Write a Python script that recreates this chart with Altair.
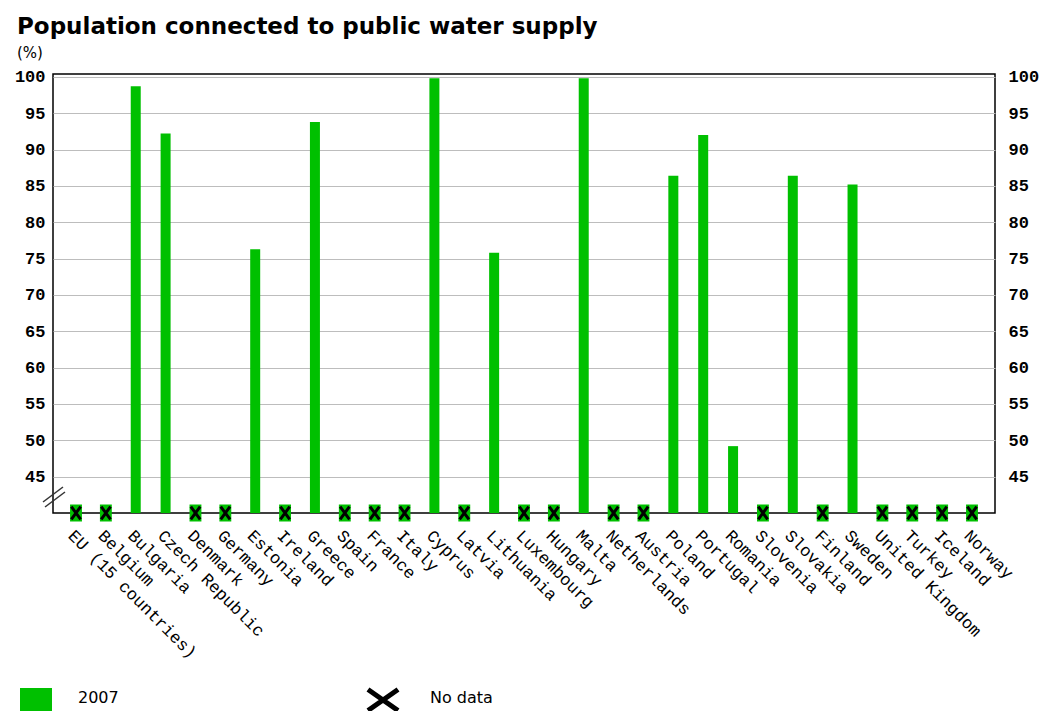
import altair as alt
import pandas as pd

# ---- data ----
countries = ["EU (15 countries)", "Belgium", "Bulgaria", "Czech Republic", "Denmark",
             "Germany", "Estonia", "Ireland", "Greece", "Spain", "France", "Italy",
             "Cyprus", "Latvia", "Lithuania", "Luxembourg", "Hungary", "Malta",
             "Netherlands", "Austria", "Poland", "Portugal", "Romania", "Slovenia",
             "Slovakia", "Finland", "Sweden", "United Kingdom", "Turkey", "Iceland", "Norway"]
values_2007 = [None, None, 98.7, 92.2, None,
               None, 76.3, None, 93.8, None, None, None,
               99.8, None, 75.8, None, None, 99.8,
               None, None, 86.4, 92.0, 49.2, None,
               86.4, None, 85.2, None, None, None, None]
y_ticks = [45, 50, 55, 60, 65, 70, 75, 80, 85, 90, 95, 100]
title_text = "Population connected to public water supply"
unit_text = "(%)"
legend_series = ["2007"]
legend_nodata = ["No data"]
axis_floor = 40

df = pd.DataFrame({"country": countries, "value": values_2007})
df["base"] = axis_floor
bars_df = df.dropna().reset_index(drop=True)
nodata_df = df[df["value"].isna()].reset_index(drop=True)

W, H = 942, 439
GREEN = "#00c000"
MONO = "Liberation Mono"
SANS = "DejaVu Sans"

yscale = alt.Scale(domain=[40, 100.4], nice=False, zero=False)

xenc = alt.X(
    "country:N", sort=countries,
    scale=alt.Scale(type="point", padding=0.77),
    axis=alt.Axis(title=None, labelAngle=45, labelAlign="left", labelBaseline="top",
                  labelFont=MONO, labelFontSize=17, labelColor="black",
                  labelPadding=14, labelLimit=400, labelOverlap=False, labelBound=False,
                  ticks=False, domain=False, grid=False),
)

bars = alt.Chart(bars_df).mark_bar(color=GREEN, size=10, clip=True).encode(
    x=xenc,
    y=alt.Y("value:Q", scale=yscale,
            axis=alt.Axis(orient="left", title=None, values=y_ticks, grid=True,
                          gridColor="#bdbdbd", gridWidth=1, ticks=False, domain=False,
                          labelFont=MONO, labelFontWeight="bold", labelFontSize=17,
                          labelColor="black", labelPadding=8)),
    y2="base:Q",
)

right_axis = alt.Chart(bars_df).mark_bar(opacity=0, size=10).encode(
    x=xenc,
    y=alt.Y("value:Q", scale=yscale,
            axis=alt.Axis(orient="right", title=None, values=y_ticks, grid=False,
                          ticks=False, domain=False,
                          labelFont=MONO, labelFontWeight="bold", labelFontSize=17,
                          labelColor="black", labelPadding=13)),
    y2="base:Q",
)

rect_path = "M-0.7,-1L0.7,-1L0.7,1L-0.7,1Z"
x_path = "M-0.55,-0.75L0.55,0.75M0.55,-0.75L-0.55,0.75"

nd_rect = alt.Chart(nodata_df).mark_point(shape=rect_path, filled=True, color=GREEN,
                                          size=289, opacity=1, clip=False).encode(
    x=xenc, y=alt.Y("base:Q", scale=yscale, axis=None))
nd_x = alt.Chart(nodata_df).mark_point(shape=x_path, filled=False, stroke="black",
                                       strokeWidth=3, size=289, opacity=1, clip=False).encode(
    x=xenc, y=alt.Y("base:Q", scale=yscale, axis=None))

# axis break mark
brk1 = alt.Chart(pd.DataFrame({"k": [1]})).mark_rule(color="#333333", strokeWidth=1.5).encode(
    x=alt.value(-10), x2=alt.value(10), y=alt.value(428), y2=alt.value(413))
brk2 = alt.Chart(pd.DataFrame({"k": [1]})).mark_rule(color="#333333", strokeWidth=1.5).encode(
    x=alt.value(-8), x2=alt.value(12), y=alt.value(433), y2=alt.value(418))

title = alt.Chart(pd.DataFrame({"t": [title_text]})).mark_text(
    align="left", baseline="alphabetic", font=SANS, fontWeight="bold", fontSize=23,
    color="black").encode(x=alt.value(-36), y=alt.value(-40), text="t:N")
unit = alt.Chart(pd.DataFrame({"t": [unit_text]})).mark_text(
    align="left", baseline="alphabetic", font=SANS, fontSize=15, color="black").encode(
    x=alt.value(-36), y=alt.value(-16), text="t:N")

leg_sq = alt.Chart(pd.DataFrame({"t": legend_series})).mark_rect(color=GREEN).encode(
    x=alt.value(-33), x2=alt.value(-1), y=alt.value(614), y2=alt.value(640))
leg_txt = alt.Chart(pd.DataFrame({"t": legend_series})).mark_text(
    align="left", baseline="alphabetic", font=SANS, fontSize=16, color="black").encode(
    x=alt.value(25), y=alt.value(629), text="t:N")
leg_x = alt.Chart(pd.DataFrame({"t": legend_nodata})).mark_point(
    shape="M-1,-0.7L1,0.7M1,-0.7L-1,0.7", filled=False, stroke="black", strokeWidth=5,
    size=900, opacity=1).encode(x=alt.value(330), y=alt.value(626))
leg_x_txt = alt.Chart(pd.DataFrame({"t": legend_nodata})).mark_text(
    align="left", baseline="alphabetic", font=SANS, fontSize=16, color="black").encode(
    x=alt.value(377), y=alt.value(629), text="t:N")

chart = alt.layer(
    bars, right_axis, nd_rect, nd_x, brk1, brk2, title, unit,
    leg_sq, leg_txt, leg_x, leg_x_txt
).resolve_axis(y="independent").properties(
    width=W, height=H,
    autosize=alt.AutoSizeParams(type="none"),
    padding={"left": 53, "top": 74, "right": 52, "bottom": 198},
    background="white",
).configure_view(stroke="black", strokeWidth=1.5)

chart.save("out.html", embed_options={"renderer": "svg", "actions": False})
